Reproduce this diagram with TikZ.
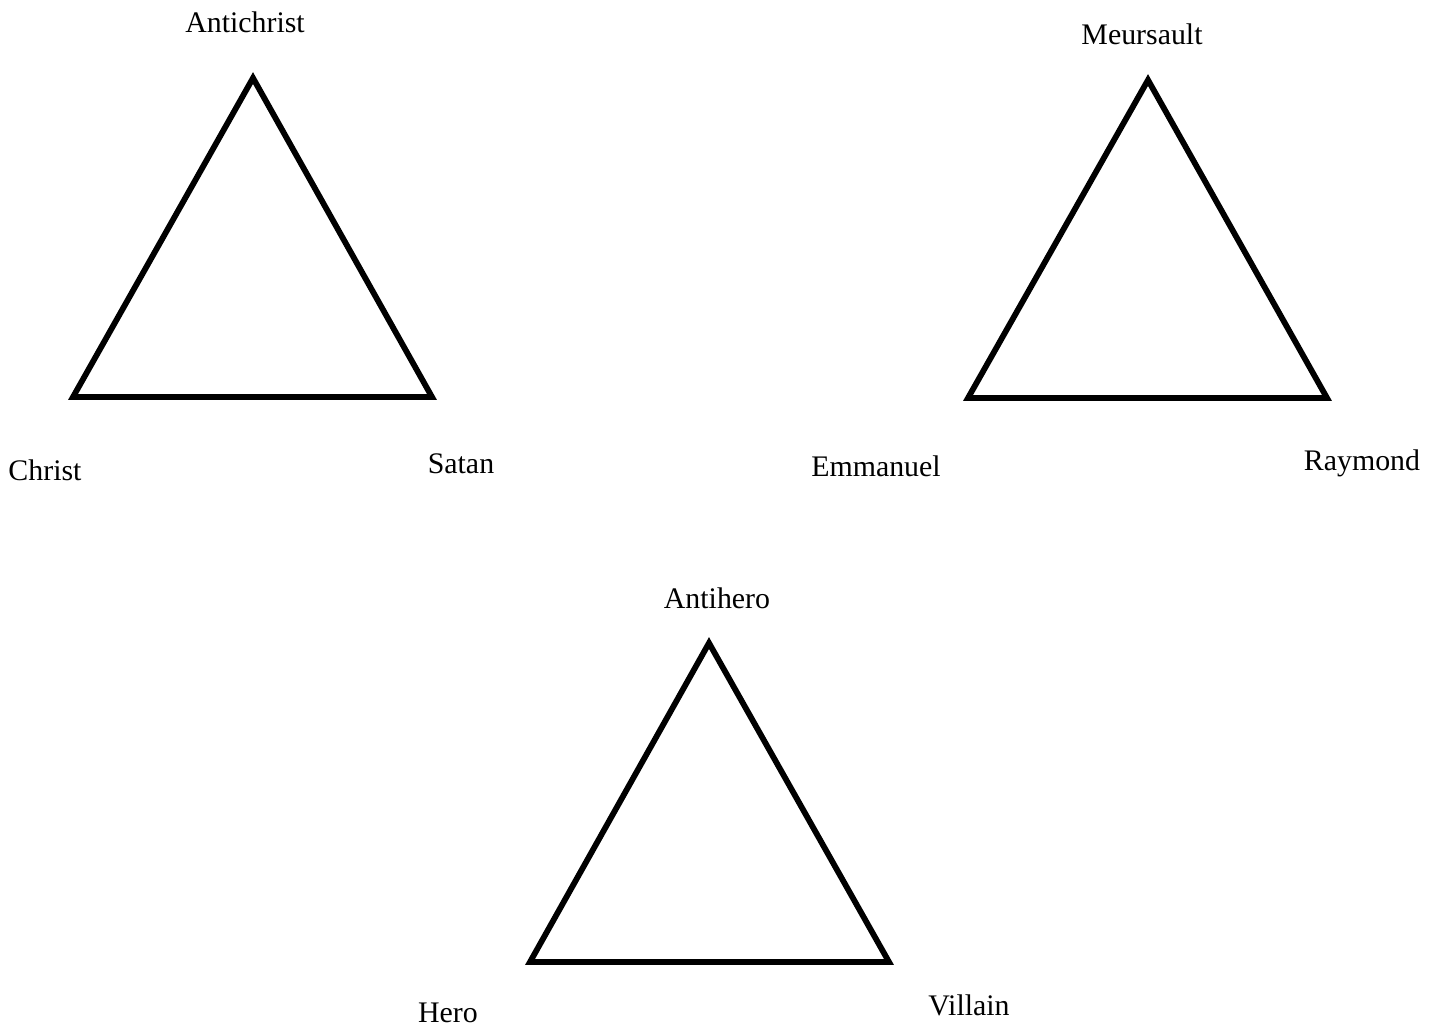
\documentclass[tikz,border=0pt]{standalone}
\usepackage{fontspec}
\setmainfont{Liberation Serif}
\usepackage{tikz}
\usetikzlibrary{positioning, calc}
\tikzset{
  tri/.style = {draw=black, line width=3.3pt, line join=miter},
  role/.style = {font=\fontsize{17}{20}\selectfont, inner sep=0pt},
}
\begin{document}
\begin{tikzpicture}[x=0.02cm, y=-0.02cm]
  \useasboundingbox (0,0) rectangle (1440,1029);

  % Religious triangle
  \coordinate (a1) at (253,78);
  \coordinate (b1) at (73,397);
  \coordinate (c1) at (432,397);
  \draw[tri] (a1) -- (b1) -- (c1) -- cycle;
  \node[role] (antichrist) at (245,22) {Antichrist};
  \node[role] (christ) at (45,470) {Christ};
  \node[role] (satan) at (461,464) {Satan};

  % Stranger triangle
  \coordinate (a2) at (1148,80);
  \coordinate (b2) at (968,398);
  \coordinate (c2) at (1327,398);
  \draw[tri] (a2) -- (b2) -- (c2) -- cycle;
  \node[role] (meursault) at (1142,34) {Meursault};
  \node[role] (emmanuel) at (876,466) {Emmanuel};
  \node[role] (raymond) at (1362,463) {Raymond};

  % Generic triangle
  \coordinate (a3) at (709,643);
  \coordinate (b3) at (530,962);
  \coordinate (c3) at (889,962);
  \draw[tri] (a3) -- (b3) -- (c3) -- cycle;
  \node[role] (antihero) at (717,598) {Antihero};
  \node[role] (hero) at (448,1013) {Hero};
  \node[role] (villain) at (969,1005) {Villain};

\end{tikzpicture}
\end{document}
